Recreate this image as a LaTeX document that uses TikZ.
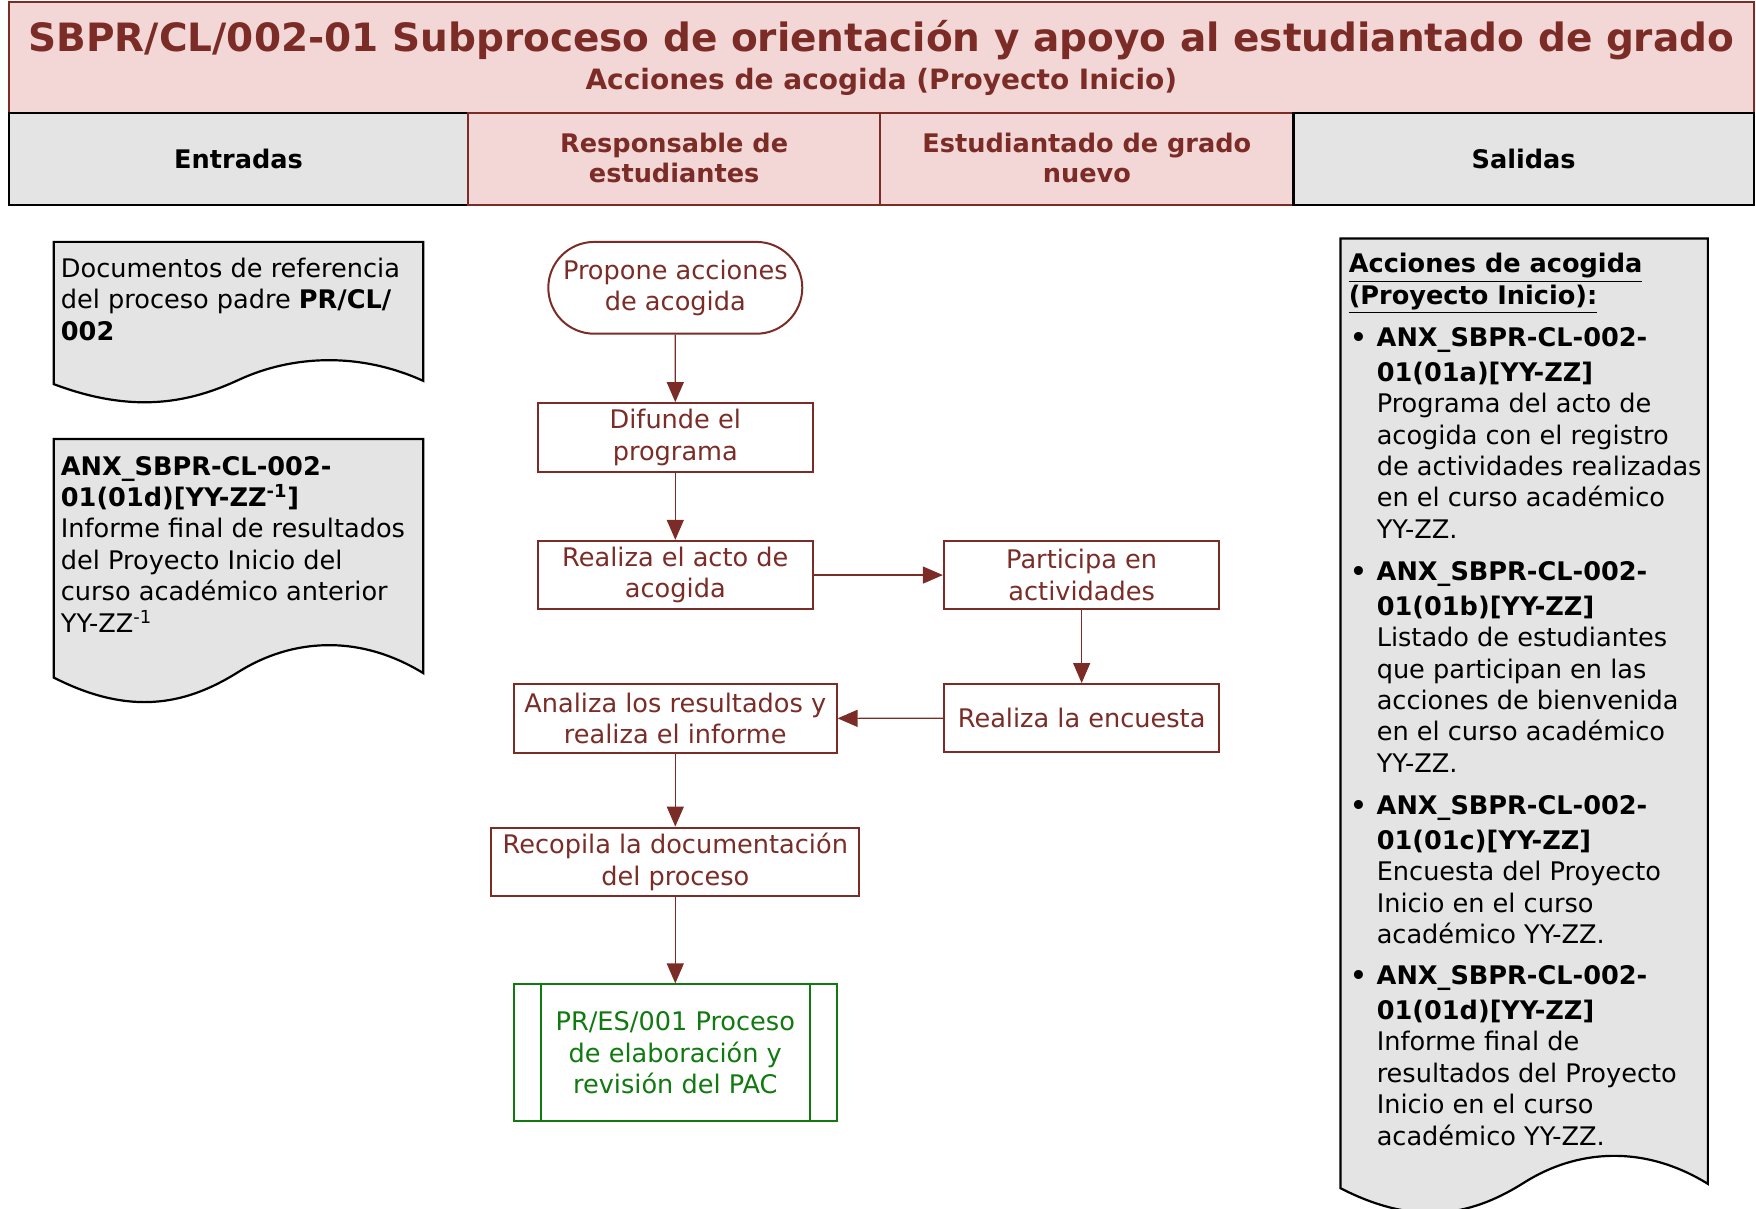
\documentclass[tikz,border=0pt]{standalone}
\usepackage{fontspec}
\setmainfont{DejaVu Sans}
\usetikzlibrary{positioning,arrows.meta,shapes.misc}

\definecolor{procred}{RGB}{123,44,38}
\definecolor{procgreen}{RGB}{16,122,16}
\definecolor{hdrpink}{RGB}{243,215,215}
\definecolor{hdrgray}{RGB}{228,228,228}

\newcommand{\bodyfont}{\fontsize{12.8pt}{15.7pt}\selectfont}
% document shape: left x, top y, right x, bottom y, wave
\newcommand{\wavedoc}[5]{%
  \draw[docshape] (#1,#2) -- (#3,#2) -- (#3,{#4-0.17*#5})
    .. controls ({#1+0.824*(#3-#1)},{#4-1.72*#5}) and ({#1+0.642*(#3-#1)},{#4-1.5*#5}) .. ({#1+0.5*(#3-#1)},{#4-0.22*#5})
    .. controls ({#1+0.37*(#3-#1)},{#4+0.95*#5}) and ({#1+0.218*(#3-#1)},{#4+1.6*#5}) .. (#1,#4) -- cycle;}

\tikzset{
  titlebox/.style={draw=procred, line width=1.2pt, fill=hdrpink, text=procred,
    minimum width=872.5pt, minimum height=55.4pt, align=center,
    font=\bfseries\fontsize{14pt}{17pt}\selectfont},
  hdrred/.style={draw=procred, line width=1.2pt, fill=hdrpink, text=procred,
    minimum height=45.9pt, align=center, font=\bfseries\fontsize{12.8pt}{15.2pt}\selectfont},
  hdrgrey/.style={draw=black, line width=1.2pt, fill=hdrgray, text=black,
    minimum height=45.9pt, align=center, font=\bfseries\fontsize{12.8pt}{15.2pt}\selectfont},
  docshape/.style={draw=black, line width=1.1pt, fill=hdrgray},
  doctext/.style={anchor=north west, inner sep=0pt, align=left, font=\bodyfont},
  proc/.style={draw=procred, line width=1pt, fill=white, text=procred, align=center,
    minimum width=137.8pt, minimum height=34.2pt, inner sep=2pt, font=\bodyfont},
  startend/.style={proc, rounded rectangle, minimum width=131pt, minimum height=45.9pt},
  subproc/.style={draw=procgreen, line width=1pt, fill=white, text=procgreen, align=center,
    minimum width=161.3pt, minimum height=68.3pt, font=\bodyfont},
  flow/.style={draw=procred, line width=0.6pt, -{Triangle[width=8.5pt,length=10pt]}, procred},
}

\begin{document}
\begin{tikzpicture}[x=0.56pt, y=-0.56pt]
\useasboundingbox (0,0) rectangle (1568,1079);

% header
\node[titlebox] (title) at (787,51.5)
  {{\fontsize{19.5pt}{22pt}\selectfont SBPR/CL/002-01 Subproceso de orientación y apoyo al estudiantado de grado}\\[2pt]
   Acciones de acogida (Proyecto Inicio)};
\node[hdrgrey, minimum width=229.6pt] (entradas) at (213,142) {Entradas};
\node[hdrred, minimum width=206.1pt] (responsable) at (602,142) {\raisebox{1pt}{Responsable de}\\\raisebox{1pt}{estudiantes}};
\node[hdrred, minimum width=206.6pt] (estudiantado) at (970.5,142) {\raisebox{1pt}{Estudiantado de grado}\\\raisebox{1pt}{nuevo}};
\node[hdrgrey, minimum width=230.2pt] (salidas) at (1360.5,142) {Salidas};

% entradas
\wavedoc{48}{216}{378}{343}{17}
\node[doctext] (docref) at (54,230) {Documentos de referencia\\del proceso padre \textbf{PR/CL/}\\\textbf{002}};
\wavedoc{48}{392}{378}{605}{23}
\node[doctext] (docanx) at (54,407) {\textbf{ANX\_SBPR-CL-002-}\\\textbf{01(01d)[YY-ZZ\textsuperscript{-1}]}\\Informe final de resultados\\del Proyecto Inicio del\\curso académico anterior\\YY-ZZ\textsuperscript{-1}};

% flujo
\node[startend] (propone) at (603,257) {Propone acciones\\de acogida};
\node[proc] (difunde) at (603,390.5) {Difunde el\\programa};
\node[proc] (acto) at (603,513.5) {Realiza el acto de\\acogida};
\node[proc, right=64.4pt of acto] (participa) {Participa en\\actividades};
\node[proc, below=36.4pt of participa] (encuesta) {Realiza la encuesta};
\node[proc, minimum width=161.3pt] (analiza) at (603,641.5) {Analiza los resultados y\\realiza el informe};
\node[proc, minimum width=184.2pt] (recopila) at (603,769.5) {Recopila la documentación\\del proceso};
\node[subproc] (pac) at (603,940) {PR/ES/001 Proceso\\de elaboración y\\revisión del PAC};
\draw[procgreen, line width=1pt] ([xshift=14pt]pac.north west) -- ([xshift=14pt]pac.south west);
\draw[procgreen, line width=1pt] ([xshift=-14pt]pac.north east) -- ([xshift=-14pt]pac.south east);

\draw[flow] (propone) -- (difunde);
\draw[flow] (difunde) -- (acto);
\draw[flow] (acto) -- (participa);
\draw[flow] (participa) -- (encuesta);
\draw[flow] (encuesta) -- (analiza);
\draw[flow] (analiza) -- (recopila);
\draw[flow] (recopila) -- (pac);

% salidas
\wavedoc{1197}{213}{1525}{1061}{23}
\node[doctext] (outhead) at (1204,226) {\textbf{\underline{Acciones de acogida}}\\\textbf{\underline{(Proyecto Inicio):}}};
\node[doctext] (outa) at (1229,292) {\llap{\textbf{•}\hspace{5pt}}\textbf{ANX\_SBPR-CL-002-}\\[1.7pt]\textbf{01(01a)[YY-ZZ]}\\Programa del acto de\\acogida con el registro\\de actividades realizadas\\en el curso académico\\YY-ZZ.};
\node[doctext] (outb) at (1229,501) {\llap{\textbf{•}\hspace{5pt}}\textbf{ANX\_SBPR-CL-002-}\\[1.7pt]\textbf{01(01b)[YY-ZZ]}\\Listado de estudiantes\\que participan en las\\acciones de bienvenida\\en el curso académico\\YY-ZZ.};
\node[doctext] (outc) at (1229,710) {\llap{\textbf{•}\hspace{5pt}}\textbf{ANX\_SBPR-CL-002-}\\[1.7pt]\textbf{01(01c)[YY-ZZ]}\\Encuesta del Proyecto\\Inicio en el curso\\académico YY-ZZ.};
\node[doctext] (outd) at (1229,862) {\llap{\textbf{•}\hspace{5pt}}\textbf{ANX\_SBPR-CL-002-}\\[1.7pt]\textbf{01(01d)[YY-ZZ]}\\Informe final de\\resultados del Proyecto\\Inicio en el curso\\académico YY-ZZ.};
\end{tikzpicture}
\end{document}
